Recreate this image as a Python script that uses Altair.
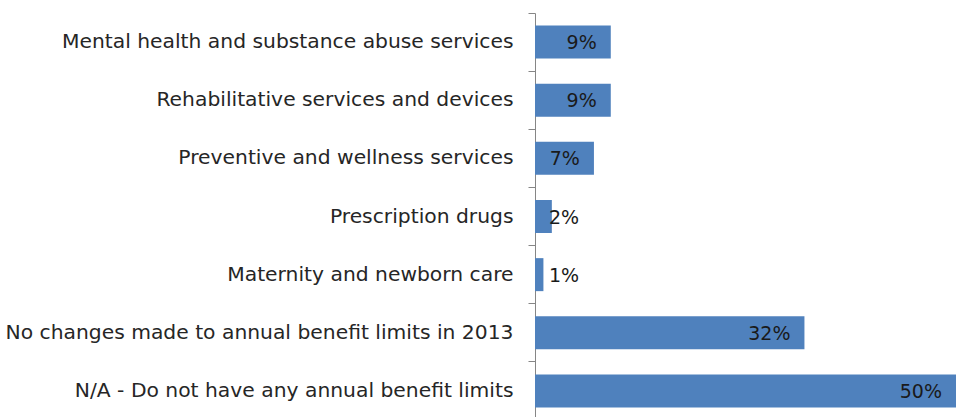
import altair as alt
import pandas as pd

categories = [
    "Mental health and substance abuse services",
    "Rehabilitative services and devices",
    "Preventive and wellness services",
    "Prescription drugs",
    "Maternity and newborn care",
    "No changes made to annual benefit limits in 2013",
    "N/A - Do not have any annual benefit limits",
]
values = [9, 9, 7, 2, 1, 32, 50]
labels = ["9%", "9%", "7%", "2%", "1%", "32%", "50%"]

df = pd.DataFrame({"cat": categories, "value": values, "label": labels})

FONT = "DejaVu Sans"

y_axis = alt.Axis(
    bandPosition=0,
    domainColor="#868686",
    domainWidth=1,
    tickColor="#868686",
    tickSize=7,
    labelPadding=15,
    labelFont=FONT,
    labelFontSize=20.3,
    labelColor="#262626",
    labelLimit=600,
    grid=False,
)

y_scale = alt.Scale(paddingInner=0, paddingOuter=0, range=[0, 407])

x_scale = alt.Scale(domain=[0, 50], nice=False, zero=True)

bars = alt.Chart(df).mark_bar(color="#4F81BD", size=33).encode(
    x=alt.X("value:Q", scale=x_scale, axis=None),
    y=alt.Y("cat:N", sort=categories, title=None, scale=y_scale, axis=y_axis),
)

text = alt.Chart(df).transform_calculate(
    pos="max(datum.value, 6.9)"
).mark_text(
    align="right", baseline="middle", dx=-14, dy=1,
    font=FONT, fontSize=19, color="#1a1a1a"
).encode(
    x=alt.X("pos:Q", scale=x_scale, axis=None),
    y=alt.Y("cat:N", sort=categories, title=None, scale=y_scale, axis=y_axis),
    text="label:N",
)

chart = alt.layer(bars, text).properties(
    width=421,
    height=404,
    background="white",
    autosize=alt.AutoSizeParams(type="none"),
    padding={"left": 535, "top": 13, "right": 0, "bottom": 0},
).configure_view(stroke=None, strokeWidth=0).configure_axis(grid=False)

chart.save("out.html", embed_options={"renderer": "svg", "actions": False})
